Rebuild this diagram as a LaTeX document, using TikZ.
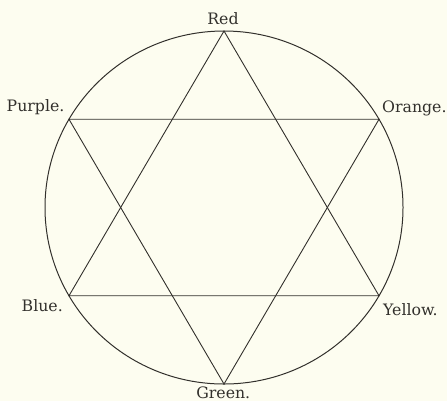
\documentclass[tikz,border=0pt]{standalone}
\usepackage{fontspec}
\setmainfont{DejaVu Serif}
\definecolor{paper}{RGB}{253,253,240}
\definecolor{ink}{RGB}{50,48,44}
\tikzset{
  rim/.style={draw=ink, line width=1pt},
  edge/.style={draw=ink, line width=0.9pt, line join=miter},
  lbl/.style={inner sep=0pt, text=ink, font=\fontsize{15.8}{19}\selectfont}
}
\begin{document}
\begin{tikzpicture}[x=1bp,y=-1bp]
\fill[paper] (0,0) rectangle (447,401);
\useasboundingbox (0,0) rectangle (447,401);
\coordinate (O) at (224,207.5);
\coordinate (red) at (224,31);
\coordinate (orange) at (379,119.25);
\coordinate (yellow) at (379,295.75);
\coordinate (green) at (224,384);
\coordinate (blue) at (69,295.75);
\coordinate (purple) at (69,119.25);
\draw[rim] (O) ellipse [x radius=179bp, y radius=176.5bp];
\draw[edge] (red) -- (yellow) -- (blue) -- cycle;
\draw[edge] (green) -- (purple) -- (orange) -- cycle;
\node[lbl, anchor=base] (tred) at (223,24.5) {Red};
\node[lbl, anchor=base west] (tpurple) at (6.5,111.5) {Purple.};
\node[lbl, anchor=base west] (torange) at (382,112) {Orange.};
\node[lbl, anchor=base west] (tblue) at (21.5,311.7) {Blue.};
\node[lbl, anchor=base west] (tyellow) at (383,315.7) {Yellow.};
\node[lbl, anchor=base] (tgreen) at (223.3,398.3) {Green.};
\end{tikzpicture}
\end{document}
